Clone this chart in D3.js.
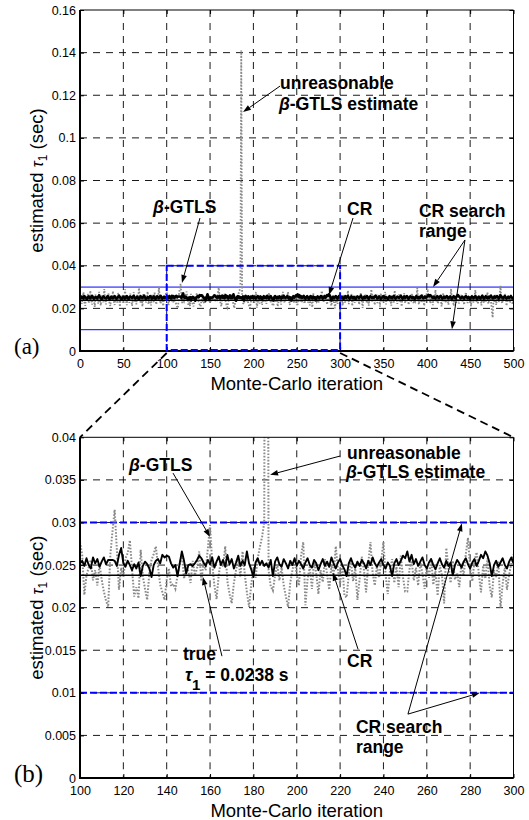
<!DOCTYPE html>
<html>
<head>
<meta charset="utf-8">
<script src="https://cdn.jsdelivr.net/npm/d3@7"></script>
<style>
  body { margin: 0; background: #fff; }
  svg { display: block; }
</style>
</head>
<body>
<svg id="chart" width="529" height="820"></svg>
<script>
// estimated tau_1 per Monte-Carlo iteration, in units of 0.1 ms (252 -> 0.0252 s)
const crIter0to99 = [
  252, 248, 255, 250, 246, 258, 253, 249, 244, 251, 256, 250, 247, 253, 259, 251, 245, 249, 254, 250,
  247, 255, 261, 252, 248, 243, 250, 256, 252, 249, 246, 253, 258, 250, 244, 248, 255, 251, 247, 252,
  257, 250, 245, 249, 254, 260, 253, 248, 242, 250, 255, 251, 246, 252, 258, 249, 244, 251, 256, 252,
  248, 253, 259, 251, 246, 250, 255, 249, 243, 251, 257, 252, 248, 254, 260, 250, 245, 249, 253, 248,
  252, 258, 251, 246, 250, 256, 249, 244, 252, 257, 251, 247, 253, 259, 250, 245, 251, 255, 249, 253
];
const crIter100to300 = [
  252, 255, 249, 258, 250, 246, 259, 252, 257, 248, 254, 259, 251, 256, 256, 256, 255, 249, 262, 270,
  252, 248, 255, 250, 244, 251, 246, 253, 237, 249, 254, 251, 246, 236, 250, 255, 257, 252, 262, 259,
  261, 260, 252, 247, 250, 237, 252, 266, 255, 240, 250, 251, 249, 252, 256, 261, 258, 253, 249, 256,
  251, 259, 247, 254, 260, 250, 256, 248, 262, 251, 257, 246, 253, 261, 249, 255, 250, 266, 252, 245,
  236, 253, 258, 250, 255, 249, 252, 247, 256, 237, 254, 259, 251, 248, 257, 252, 246, 255, 250, 258,
  249, 255, 251, 246, 253, 258, 250, 247, 256, 252, 244, 251, 257, 249, 254, 248, 259, 252, 246, 253,
  257, 250, 245, 237, 252, 258, 251, 247, 254, 249, 256, 252, 246, 255, 250, 259, 252, 248, 253, 257,
  250, 246, 253, 249, 237, 252, 257, 250, 255, 261, 258, 266, 254, 262, 251, 257, 249, 254, 259, 250,
  246, 253, 257, 250, 245, 252, 258, 251, 247, 255, 249, 253, 238, 250, 256, 252, 247, 254, 258, 251,
  246, 253, 257, 249, 255, 262, 258, 266, 261, 252, 237, 250, 255, 248, 253, 258, 250, 246, 254, 259,
  252
];
const crIter301to500 = [
  248, 255, 250, 244, 252, 257, 249, 253, 259, 251, 246, 250, 256, 252, 247, 254, 249, 243, 251, 256,
  252, 248, 254, 260, 251, 246, 250, 255, 249, 253, 258, 250, 245, 251, 257, 252, 248, 253, 249, 255,
  260, 252, 247, 250, 256, 251, 245, 249, 254, 258, 251, 247, 253, 249, 244, 252, 257, 250, 254, 248,
  253, 259, 251, 246, 250, 255, 252, 248, 254, 260, 252, 246, 251, 256, 249, 253, 258, 250, 245, 251,
  256, 252, 248, 253, 250, 245, 252, 258, 251, 247, 254, 249, 255, 260, 252, 247, 251, 256, 250, 254,
  259, 263, 257, 262, 258, 252, 248, 255, 250, 246, 253, 257, 251, 248, 254, 259, 251, 246, 250, 255,
  249, 253, 258, 251, 247, 252, 256, 250, 245, 251, 257, 253, 248, 254, 259, 262, 257, 252, 247, 251,
  255, 250, 246, 253, 258, 251, 248, 254, 249, 244, 251, 256, 252, 247, 253, 258, 250, 245, 251, 255,
  250, 247, 253, 259, 251, 246, 252, 257, 250, 248, 254, 249, 255, 260, 252, 247, 251, 256, 250, 253,
  258, 252, 246, 251, 262, 256, 250, 247, 253, 258, 251, 246, 250, 255, 249, 253, 257, 251, 247, 252
];

const gtlsIter0to99 = [
  238, 262, 221, 247, 275, 230, 212, 256, 241, 268, 225, 249, 283, 236, 218, 259, 244, 207, 266, 231,
  254, 222, 278, 240, 213, 263, 248, 229, 291, 245, 219, 257, 236, 270, 226, 211, 252, 239, 281, 233,
  216, 260, 243, 227, 272, 249, 208, 255, 237, 264, 222, 246, 289, 234, 215, 258, 241, 226, 269, 250,
  212, 244, 276, 231, 255, 219, 263, 238, 296, 247, 224, 253, 209, 267, 235, 258, 228, 242, 279, 220,
  251, 237, 214, 265, 243, 229, 274, 248, 218, 256, 233, 302, 245, 222, 260, 238, 211, 254, 242, 268
];
const gtlsIter100to300 = [
  277, 262, 215, 238, 247, 256, 232, 244, 226, 251, 233, 219, 208, 201, 262, 290, 315, 268, 221, 247,
  236, 258, 264, 279, 246, 213, 224, 211, 268, 237, 222, 209, 241, 256, 263, 272, 248, 227, 218, 209,
  233, 246, 225, 228, 222, 238, 251, 262, 234, 247, 243, 229, 255, 238, 246, 266, 231, 253, 244, 270,
  297, 252, 226, 210, 238, 255, 248, 272, 231, 216, 205, 229, 244, 259, 236, 266, 240, 218, 201, 227,
  246, 235, 258, 271, 283, 300, 1410, 244, 225, 220, 238, 251, 232, 247, 226, 213, 201, 229, 244, 256,
  238, 226, 261, 277, 203, 234, 248, 222, 255, 240, 216, 244, 230, 257, 239, 221, 250, 236, 272, 245,
  228, 251, 214, 212, 239, 255, 231, 246, 209, 233, 260, 244, 218, 252, 277, 241, 226, 249, 235, 256,
  277, 238, 216, 243, 257, 229, 248, 224, 261, 236, 219, 219, 245, 255, 232, 247, 226, 253, 240, 222,
  249, 235, 258, 227, 243, 214, 250, 238, 205, 270, 246, 229, 255, 233, 241, 224, 252, 237, 263, 282,
  246, 231, 255, 265, 240, 218, 249, 234, 258, 225, 212, 244, 236, 254, 200, 228, 247, 221, 239, 252,
  262
];
const gtlsIter301to500 = [
  232, 249, 214, 265, 241, 226, 257, 238, 283, 220, 247, 235, 268, 211, 252, 240, 227, 261, 244, 230,
  255, 218, 246, 273, 237, 202, 250, 233, 266, 241, 224, 258, 213, 247, 236, 289, 229, 253, 242, 216,
  261, 238, 225, 254, 246, 208, 270, 233, 251, 226, 243, 277, 219, 248, 236, 262, 230, 245, 213, 257,
  240, 228, 284, 236, 252, 221, 247, 265, 231, 244, 209, 256, 238, 272, 225, 249, 234, 260, 217, 243,
  253, 229, 268, 241, 222, 257, 236, 248, 295, 232, 219, 255, 242, 227, 264, 239, 212, 251, 246, 274,
  280, 236, 258, 224, 266, 243, 215, 252, 238, 287, 229, 247, 221, 260, 235, 254, 209, 242, 271, 233,
  248, 226, 262, 240, 218, 256, 237, 292, 230, 245, 212, 258, 241, 226, 269, 250, 223, 246, 235, 264,
  229, 252, 217, 244, 276, 238, 225, 257, 233, 248, 210, 263, 240, 227, 254, 286, 231, 245, 220, 259,
  237, 249, 214, 268, 243, 226, 255, 232, 247, 275, 221, 240, 258, 236, 190, 157, 248, 231, 263, 216,
  244, 256, 229, 262, 306, 238, 223, 251, 236, 270, 245, 212, 257, 233, 248, 226, 265, 240, 219, 254
];

const trueTau = 0.0238;
const searchRange = [0.01, 0.03];
const zoomIter = [100, 300];
const zoomTau = [0, 0.04];

const xTicksA = [0, 50, 100, 150, 200, 250, 300, 350, 400, 450, 500];
const yTicksA = [0, 0.02, 0.04, 0.06, 0.08, 0.1, 0.12, 0.14, 0.16];
const xTicksB = [100, 120, 140, 160, 180, 200, 220, 240, 260, 280, 300];
const yTicksB = [0, 0.005, 0.01, 0.015, 0.02, 0.025, 0.03, 0.035, 0.04];

// annotations, positioned in data units of each panel
const notesA = [
  { at: [230.7, 0.1229], parts: [{ t: "unreasonable" }] },
  { at: [229.5, 0.1131], parts: [{ t: "β", it: true }, { t: "-GTLS estimate" }] },
  { at: [84.2, 0.0648], parts: [{ t: "β", it: true }, { t: "-GTLS" }] },
  { at: [308, 0.0638], parts: [{ t: "CR" }] },
  { at: [391, 0.0629], parts: [{ t: "CR search" }] },
  { at: [391, 0.0535], parts: [{ t: "range" }] }
];
const arrowsA = [
  { from: [230.7, 0.1243], to: [188, 0.1121] },
  { from: [138.4, 0.0624], to: [117.6, 0.0319] },
  { from: [314.9, 0.0624], to: [287.2, 0.0263] },
  { from: [444, 0.0521], to: [407.2, 0.0300] },
  { from: [444, 0.0521], to: [429, 0.0102] }
];
const notesB = [
  { at: [122.6, 0.0360], parts: [{ t: "β", it: true }, { t: "-GTLS" }] },
  { at: [223.2, 0.0375], parts: [{ t: "unreasonable" }] },
  { at: [222.7, 0.0352], parts: [{ t: "β", it: true }, { t: "-GTLS estimate" }] },
  { at: [223.2, 0.0130], parts: [{ t: "CR" }] },
  { at: [147.5, 0.0138], parts: [{ t: "true" }] },
  { at: [148.4, 0.0114], parts: [{ t: "τ", it: true }, { t: "1", sub: 9 }, { t: " = 0.0238 s", sub: -9 }] },
  { at: [227.3, 0.0053], parts: [{ t: "CR search" }] },
  { at: [227.3, 0.0029], parts: [{ t: "range" }] }
];
const arrowsB = [
  { from: [142.9, 0.0358], to: [160, 0.0283] },
  { from: [220, 0.0378], to: [187.7, 0.0356] },
  { from: [228.3, 0.0151], to: [216.7, 0.0241] },
  { from: [165.5, 0.0143], to: [156.7, 0.0236] },
  { from: [251.3, 0.0075], to: [284.5, 0.0100] },
  { from: [251.3, 0.0075], to: [276.2, 0.0299] }
];

const SANS = "'Liberation Sans', Arial, Helvetica, sans-serif";
const SERIF = "'Liberation Serif', 'Times New Roman', serif";
const BLUE = "#0000ff";
const GREY = "#8a8a8a";

const toSec = v => v / 10000;
const cr = crIter0to99.concat(crIter100to300, crIter301to500).map((v, i) => ({ iter: i, tau: toSec(v) }));
const gtls = gtlsIter0to99.concat(gtlsIter100to300, gtlsIter301to500).map((v, i) => ({ iter: i, tau: toSec(v) }));

const svg = d3.select("#chart");

function drawArrow(g, x, y, a) {
  const x1 = x(a.from[0]), y1 = y(a.from[1]);
  const x2 = x(a.to[0]), y2 = y(a.to[1]);
  const ang = Math.atan2(y2 - y1, x2 - x1);
  const len = 8, half = 2.8;
  const bx = x2 - len * Math.cos(ang), by = y2 - len * Math.sin(ang);
  g.append("line")
    .attr("x1", x1).attr("y1", y1).attr("x2", bx).attr("y2", by)
    .attr("stroke", "#000").attr("stroke-width", 1);
  g.append("path")
    .attr("d", `M${x2},${y2}L${bx + half * Math.sin(ang)},${by - half * Math.cos(ang)}L${bx - half * Math.sin(ang)},${by + half * Math.cos(ang)}Z`)
    .attr("fill", "#000");
}

function drawNote(g, x, y, n) {
  const t = g.append("text")
    .attr("x", x(n.at[0])).attr("y", y(n.at[1]))
    .attr("font-family", SANS).attr("font-weight", "bold").attr("font-size", 17.5);
  n.parts.forEach(p => {
    const s = t.append("tspan").text(p.t);
    if (p.it) s.attr("font-style", "italic");
    if (p.sub) s.attr("dy", p.sub);
    if (p.sub > 0) s.attr("font-size", 15);
  });
}

function drawPanel(p) {
  const x = d3.scaleLinear().domain(p.xDomain).range([p.left, p.right]);
  const y = d3.scaleLinear().domain(p.yDomain).range([p.bottom, p.top]);
  const g = svg.append("g");

  g.append("clipPath").attr("id", p.id + "-clip")
    .append("rect")
    .attr("x", p.left).attr("y", p.top)
    .attr("width", p.right - p.left).attr("height", p.bottom - p.top);

  // dashed grid
  const grid = g.append("g").attr("stroke", "#000").attr("stroke-width", 0.9)
    .attr("stroke-dasharray", "7,6");
  grid.selectAll(".gx").data(p.xTicks.slice(1, -1)).enter().append("line")
    .attr("x1", d => x(d)).attr("x2", d => x(d))
    .attr("y1", p.top).attr("y2", p.bottom);
  grid.selectAll(".gy").data(p.yTicks.slice(1, -1)).enter().append("line")
    .attr("y1", d => y(d)).attr("y2", d => y(d))
    .attr("x1", p.left).attr("x2", p.right);

  const plot = g.append("g").attr("clip-path", `url(#${p.id}-clip)`);

  // CR search range
  plot.selectAll(".range").data(searchRange).enter().append("line")
    .attr("x1", p.left).attr("x2", p.right)
    .attr("y1", d => y(d)).attr("y2", d => y(d))
    .attr("stroke", BLUE)
    .attr("stroke-width", p.rangeWidth)
    .attr("stroke-dasharray", p.rangeDash);

  const line = d3.line().x(d => x(d.iter)).y(d => y(d.tau));
  const inRange = d => d.iter >= p.xDomain[0] && d.iter <= p.xDomain[1];

  plot.append("path").datum(gtls.filter(inRange))
    .attr("d", line).attr("fill", "none")
    .attr("stroke", GREY).attr("stroke-width", p.gtlsWidth)
    .attr("stroke-dasharray", p.gtlsDash);

  plot.append("line")
    .attr("x1", p.left).attr("x2", p.right)
    .attr("y1", y(trueTau)).attr("y2", y(trueTau))
    .attr("stroke", "#000").attr("stroke-width", 1.5);

  plot.append("path").datum(cr.filter(inRange))
    .attr("d", line).attr("fill", "none")
    .attr("stroke", "#000").attr("stroke-width", p.crWidth)
    .attr("stroke-linejoin", "round");

  // axes with inward ticks
  const fmt = d => String(d);
  const style = sel => {
    sel.select(".domain").remove();
    sel.selectAll("text").attr("font-family", SANS).attr("font-size", 12.5).attr("fill", "#000");
    sel.selectAll(".tick line").attr("stroke", "#000");
  };
  g.append("g").attr("transform", `translate(0,${p.bottom})`)
    .call(d3.axisBottom(x).tickValues(p.xTicks).tickFormat(fmt).tickSizeInner(-4).tickSizeOuter(0).tickPadding(8))
    .call(style);
  g.append("g").attr("transform", `translate(${p.left},0)`)
    .call(d3.axisLeft(y).tickValues(p.yTicks).tickFormat(fmt).tickSizeInner(-4).tickSizeOuter(0).tickPadding(4))
    .call(style);
  g.append("g").attr("transform", `translate(0,${p.top})`)
    .call(d3.axisTop(x).tickValues(p.xTicks).tickFormat("").tickSizeInner(-4).tickSizeOuter(0))
    .call(style);
  g.append("g").attr("transform", `translate(${p.right},0)`)
    .call(d3.axisRight(y).tickValues(p.yTicks).tickFormat("").tickSizeInner(-4).tickSizeOuter(0))
    .call(style);

  // frame
  g.append("line").attr("x1", p.left).attr("x2", p.right).attr("y1", p.top).attr("y2", p.top)
    .attr("stroke", "#000").attr("stroke-width", 1);
  g.append("line").attr("x1", p.right).attr("x2", p.right).attr("y1", p.top).attr("y2", p.bottom)
    .attr("stroke", "#000").attr("stroke-width", 1);
  g.append("line").attr("x1", p.left).attr("x2", p.left).attr("y1", p.top).attr("y2", p.bottom + 1)
    .attr("stroke", "#000").attr("stroke-width", 2);
  g.append("line").attr("x1", p.left - 1).attr("x2", p.right).attr("y1", p.bottom).attr("y2", p.bottom)
    .attr("stroke", "#000").attr("stroke-width", 2);

  // axis titles
  g.append("text")
    .attr("x", (p.left + p.right) / 2).attr("y", p.bottom + 39)
    .attr("text-anchor", "middle")
    .attr("font-family", SANS).attr("font-size", 18.5)
    .text("Monte-Carlo iteration");
  const yl = g.append("text")
    .attr("transform", `translate(43,${(p.top + p.bottom) / 2}) rotate(-90)`)
    .attr("text-anchor", "middle")
    .attr("font-family", SANS).attr("font-size", 18.5);
  yl.append("tspan").text("estimated ");
  yl.append("tspan").text("τ").attr("font-style", "italic").attr("font-size", 16);
  yl.append("tspan").text("1").attr("dy", 4).attr("font-size", 12);
  yl.append("tspan").text(" (sec)").attr("dy", -4);

  g.append("text")
    .attr("x", 14).attr("y", p.bottom + p.letterDy)
    .attr("font-family", SERIF).attr("font-size", p.letterSize)
    .text(p.letter);

  return { x, y, g };
}

const panelA = {
  id: "a", letter: "(a)", letterSize: 23, letterDy: 3,
  left: 80, right: 513.5, top: 10, bottom: 351,
  xDomain: [0, 500], yDomain: [0, 0.16], xTicks: xTicksA, yTicks: yTicksA,
  rangeWidth: 1, rangeDash: null,
  gtlsWidth: 1.8, gtlsDash: "1.6,1.6", crWidth: 2.6
};
const panelB = {
  id: "b", letter: "(b)", letterSize: 25, letterDy: 4,
  left: 80, right: 513.5, top: 437.3, bottom: 778,
  xDomain: [100, 300], yDomain: [0, 0.04], xTicks: xTicksB, yTicks: yTicksB,
  rangeWidth: 2, rangeDash: "7,3",
  gtlsWidth: 2, gtlsDash: "1.6,1.6", crWidth: 1.9
};

const A = drawPanel(panelA);
const B = drawPanel(panelB);

// zoom window on panel (a)
A.g.append("rect")
  .attr("x", A.x(zoomIter[0])).attr("y", A.y(zoomTau[1]))
  .attr("width", A.x(zoomIter[1]) - A.x(zoomIter[0]))
  .attr("height", A.y(zoomTau[0]) - A.y(zoomTau[1]) - 1)
  .attr("fill", "none").attr("stroke", BLUE).attr("stroke-width", 2)
  .attr("stroke-dasharray", "7,3");

// connector lines between the panels
const conn = svg.append("g").attr("stroke", "#000").attr("stroke-width", 1.8)
  .attr("stroke-dasharray", "8,5");
conn.append("line")
  .attr("x1", A.x(zoomIter[0])).attr("y1", A.y(zoomTau[0]) + 2)
  .attr("x2", B.x(zoomIter[0])).attr("y2", B.y(zoomTau[1]));
conn.append("line")
  .attr("x1", A.x(zoomIter[1])).attr("y1", A.y(zoomTau[0]) + 2)
  .attr("x2", B.x(zoomIter[1])).attr("y2", B.y(zoomTau[1]));

notesA.forEach(n => drawNote(A.g, A.x, A.y, n));
arrowsA.forEach(a => drawArrow(A.g, A.x, A.y, a));
notesB.forEach(n => drawNote(B.g, B.x, B.y, n));
arrowsB.forEach(a => drawArrow(B.g, B.x, B.y, a));
</script>
</body>
</html>
